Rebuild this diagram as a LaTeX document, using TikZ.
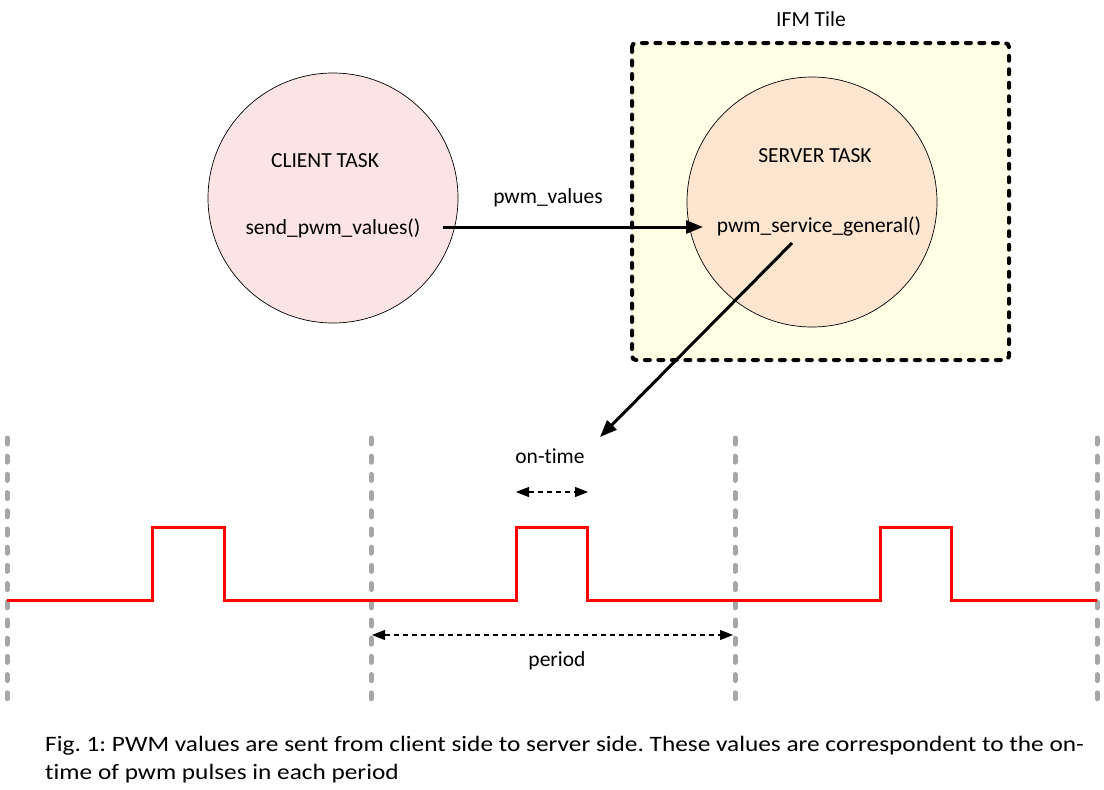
\documentclass[tikz,border=0pt]{standalone}
\usepackage{fontspec}
\setmainfont{Carlito}[Ligatures=NoCommon]
\newfontfamily\capfont{Carlito}[Ligatures=NoCommon,FakeStretch=1.15]
\usetikzlibrary{arrows.meta}
\definecolor{clientfill}{HTML}{FCE4E4}
\definecolor{serverfill}{HTML}{FDE5D0}
\definecolor{tilefill}{HTML}{FFFFE6}
\definecolor{gridgray}{HTML}{A6A6A6}
\definecolor{sigred}{HTML}{FF0000}
\frenchspacing
\begin{document}
\begin{tikzpicture}[x=1pt,y=-1pt,
  lbl/.style={font=\fontsize{21.5}{28}\selectfont, inner sep=0pt, anchor=base},
  caplbl/.style={font=\capfont\fontsize{22}{28}\selectfont, inner sep=0pt, anchor=base west},
  task/.style={circle, draw=black, line width=0.7pt, minimum size=250pt, inner sep=0pt},
  tile/.style={draw=black, line width=4pt, line cap=round, dash pattern=on 5pt off 8.5pt, rounded corners=4pt, fill=tilefill},
  flow/.style={line width=3pt, -{Triangle[length=17pt,width=13pt]}},
  dim/.style={line width=1.1pt, dash pattern=on 5pt off 4pt, {Triangle[length=13pt,width=10pt]}-{Triangle[length=13pt,width=10pt]}},
  grid/.style={draw=gridgray, line width=5pt, line cap=round, dash pattern=on 6pt off 12.2pt},
  signal/.style={draw=sigred, line width=3pt}]
\useasboundingbox (0,0) rectangle (1104,790);
% tile
\draw[tile] (632,43) rectangle (1009,360);
\node[lbl] (tilelbl) at (811,26) {IFM Tile};
% circles
\node[task, fill=clientfill] (client) at (333,198) {};
\node[task, fill=serverfill] (server) at (812,202) {};
\node[lbl] (clientname) at (325,167) {CLIENT TASK};
\node[lbl] (sendfn) at (333,234) {send\_pwm\_values()};
\node[lbl] (servername) at (815,162) {SERVER TASK};
\node[lbl] (servfn) at (819,232) {pwm\_service\_general()};
\node[lbl] (pwmv) at (548,203) {pwm\_values};
% main arrow
\coordinate (a1) at (443,227);
\coordinate (a2) at (703,227);
\draw[flow] (a1) -- (a2);
% diagonal arrow
\coordinate (d1) at (792,243);
\coordinate (d2) at (600,437);
\draw[flow] (d1) -- (d2);
% grid lines
\foreach \x/\n in {7/g0,371/g1,735/g2,1097/g3}{
  \coordinate (\n t) at (\x,438);
  \coordinate (\n b) at (\x,700);
  \draw[grid] (\n t) -- (\n b);
}
% signal
\draw[signal] (7,600) -- (152,600) -- (152,527) -- (224,527) -- (224,600)
  -- (516,600) -- (516,527) -- (587,527) -- (587,600)
  -- (880,600) -- (880,527) -- (951,527) -- (951,600) -- (1097,600);
% on-time
\coordinate (o1) at (516,492);
\coordinate (o2) at (588,492);
\draw[dim] (o1) -- (o2);
\node[lbl] (ontime) at (550,463) {on-time};
% period
\coordinate (p1) at (372,635);
\coordinate (p2) at (733,635);
\draw[dim] (p1) -- (p2);
\node[lbl] (period) at (557,666) {period};
% caption
\node[caplbl] (cap1) at (45,751) {Fig. 1: PWM values are sent from client side to server side. These values are correspondent to the on-};
\node[caplbl] (cap2) at (45,779) {time of pwm pulses in each period};
\end{tikzpicture}
\end{document}
